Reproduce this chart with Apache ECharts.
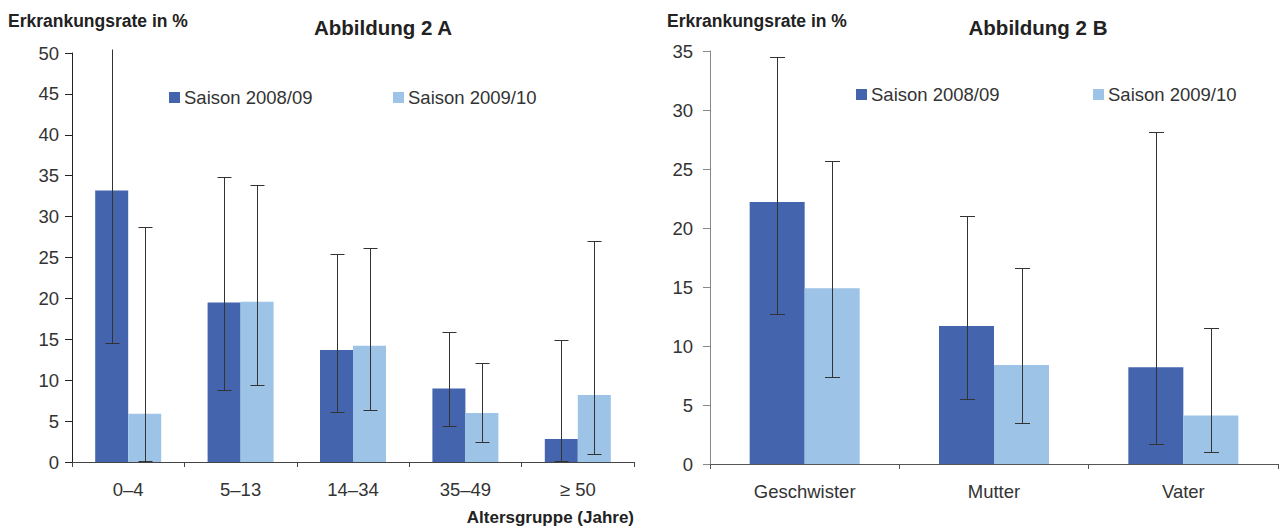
<!DOCTYPE html>
<html>
<head>
<meta charset="utf-8">
<script src="https://cdn.jsdelivr.net/npm/echarts@6/dist/echarts.min.js"></script>
<style>
html,body{margin:0;padding:0;background:#fff;}
#chart{width:1283px;height:528px;}
</style>
</head>
<body>
<div id="chart"></div>
<script>
// ---- Data: Abbildung 2A ----
const catsA = ['0–4', '5–13', '14–34', '35–49', '≥ 50'];
const a0809 = [33.2, 19.5, 13.7, 9.0, 2.8];
const a0910 = [5.9, 19.6, 14.2, 6.0, 8.2];
const a0809Low = [14.6, 8.8, 6.1, 4.4, 0.1];
const a0809High = [50.5, 34.9, 25.4, 15.9, 14.9];
const a0910Low = [0.1, 9.4, 6.4, 2.5, 1.0];
const a0910High = [28.7, 33.9, 26.2, 12.1, 27.0];
const ticksA = { min: 0, max: 50, interval: 5 };

// ---- Data: Abbildung 2B ----
const catsB = ['Geschwister', 'Mutter', 'Vater'];
const b0809 = [22.2, 11.7, 8.2];
const b0910 = [14.9, 8.4, 4.1];
const b0809Low = [12.7, 5.5, 1.7];
const b0809High = [34.5, 21.0, 28.1];
const b0910Low = [7.4, 3.5, 1.0];
const b0910High = [25.7, 16.6, 11.5];
const ticksB = { min: 0, max: 35, interval: 5 };

const seriesNames = ['Saison 2008/09', 'Saison 2009/10'];

// ---- Styles ----
const C_DARK = '#4464AD';
const C_LIGHT = '#9DC3E6';
const FONT = '"Liberation Sans", Arial, sans-serif';
const BAR_W_A = 33, BAR_W_B = 55;

function errData(lo, hi) { return lo.map((v, i) => [i, v, hi[i]]); }

function errRender(sign, barW, capW, yMax) {
  return function (params, api) {
    const cat = api.value(0), lo = api.value(1), hi = api.value(2);
    const pLo = api.coord([cat, lo]);
    const pHi = api.coord([cat, hi]);
    const x = Math.round(pLo[0] + sign * barW / 2) + 0.5;
    const yLo = Math.round(pLo[1]) + 0.5, yHi = Math.round(pHi[1]) + 0.5;
    const st = { stroke: '#333', lineWidth: 1 };
    const ch = [
      { type: 'line', shape: { x1: x, y1: yLo, x2: x, y2: yHi }, style: st },
      { type: 'line', shape: { x1: x - capW / 2, y1: yLo, x2: x + capW / 2, y2: yLo }, style: st }
    ];
    if (hi <= yMax) ch.push({ type: 'line', shape: { x1: x - capW / 2, y1: yHi, x2: x + capW / 2, y2: yHi }, style: st });
    return { type: 'group', children: ch };
  };
}

function yAxisCfg(idx, t, lineColor, margin) {
  return {
    type: 'value', gridIndex: idx, min: t.min, max: t.max, interval: t.interval,
    axisLine: { show: true, lineStyle: { color: lineColor, width: 1 } },
    axisTick: { show: true, length: 7, lineStyle: { color: lineColor } },
    splitLine: { show: false },
    axisLabel: { fontFamily: FONT, fontSize: 18.5, color: '#333', margin: margin }
  };
}
function xAxisCfg(idx, cats, lineColor) {
  return {
    type: 'category', gridIndex: idx, data: cats,
    axisLine: { show: true, lineStyle: { color: lineColor, width: 1 } },
    axisTick: { show: true, length: 5, lineStyle: { color: lineColor } },
    axisLabel: { fontFamily: FONT, fontSize: 18.5, color: '#333', margin: 18 }
  };
}
function legendCfg(name, left, top) {
  return {
    data: [name], left: left, top: top, padding: 0, itemGap: 0,
    icon: 'rect', itemWidth: 11, itemHeight: 11,
    textStyle: { fontFamily: FONT, fontSize: 18.5, color: '#333', lineHeight: 18, padding: [0, 0, 0, -1] },
    selectedMode: false
  };
}
function txt(text, x, y, size, align) {
  return {
    type: 'text', x: x, y: y, silent: true,
    style: { text: text, fontFamily: FONT, fontSize: size, fontWeight: 'bold', fill: '#222',
             textAlign: align, textVerticalAlign: 'middle', verticalAlign: 'middle' }
  };
}

const chart = echarts.init(document.getElementById('chart'), null, { renderer: 'svg' });
chart.setOption({
  animation: false,
  backgroundColor: '#fff',
  grid: [
    { left: 72, top: 53, width: 562, height: 409 },
    { left: 710, top: 51, width: 568, height: 413 }
  ],
  xAxis: [xAxisCfg(0, catsA, '#444'), xAxisCfg(1, catsB, '#555')],
  yAxis: [yAxisCfg(0, ticksA, '#222', 13), yAxisCfg(1, ticksB, '#888', 17)],
  legend: [
    legendCfg(seriesNames[0], 169, 88),
    legendCfg(seriesNames[1], 393, 88),
    legendCfg(seriesNames[0], 856, 85),
    legendCfg(seriesNames[1], 1093, 85)
  ],
  graphic: [
    txt('Erkrankungsrate in %', 8, 21, 17.5, 'left'),
    txt('Abbildung 2 A', 383, 27, 20.5, 'center'),
    txt('Altersgruppe (Jahre)', 634, 517, 17, 'right'),
    txt('Erkrankungsrate in %', 667, 21, 17.5, 'left'),
    txt('Abbildung 2 B', 1038, 27, 20.5, 'center')
  ],
  series: [
    { type: 'bar', name: seriesNames[0], xAxisIndex: 0, yAxisIndex: 0, data: a0809,
      barWidth: BAR_W_A, barGap: '0%', itemStyle: { color: C_DARK } },
    { type: 'bar', name: seriesNames[1], xAxisIndex: 0, yAxisIndex: 0, data: a0910,
      barWidth: BAR_W_A, barGap: '0%', itemStyle: { color: C_LIGHT } },
    { type: 'bar', name: seriesNames[0], xAxisIndex: 1, yAxisIndex: 1, data: b0809,
      barWidth: BAR_W_B, barGap: '0%', itemStyle: { color: C_DARK } },
    { type: 'bar', name: seriesNames[1], xAxisIndex: 1, yAxisIndex: 1, data: b0910,
      barWidth: BAR_W_B, barGap: '0%', itemStyle: { color: C_LIGHT } },
    { type: 'custom', xAxisIndex: 0, yAxisIndex: 0, z: 5, clip: false,
      renderItem: errRender(-1, BAR_W_A, 14, ticksA.max), encode: { x: 0, y: [1, 2] },
      data: errData(a0809Low, a0809High) },
    { type: 'custom', xAxisIndex: 0, yAxisIndex: 0, z: 5, clip: false,
      renderItem: errRender(1, BAR_W_A, 14, ticksA.max), encode: { x: 0, y: [1, 2] },
      data: errData(a0910Low, a0910High) },
    { type: 'custom', xAxisIndex: 1, yAxisIndex: 1, z: 5, clip: false,
      renderItem: errRender(-1, BAR_W_B, 15, ticksB.max), encode: { x: 0, y: [1, 2] },
      data: errData(b0809Low, b0809High) },
    { type: 'custom', xAxisIndex: 1, yAxisIndex: 1, z: 5, clip: false,
      renderItem: errRender(1, BAR_W_B, 15, ticksB.max), encode: { x: 0, y: [1, 2] },
      data: errData(b0910Low, b0910High) }
  ]
});
</script>
</body>
</html>
